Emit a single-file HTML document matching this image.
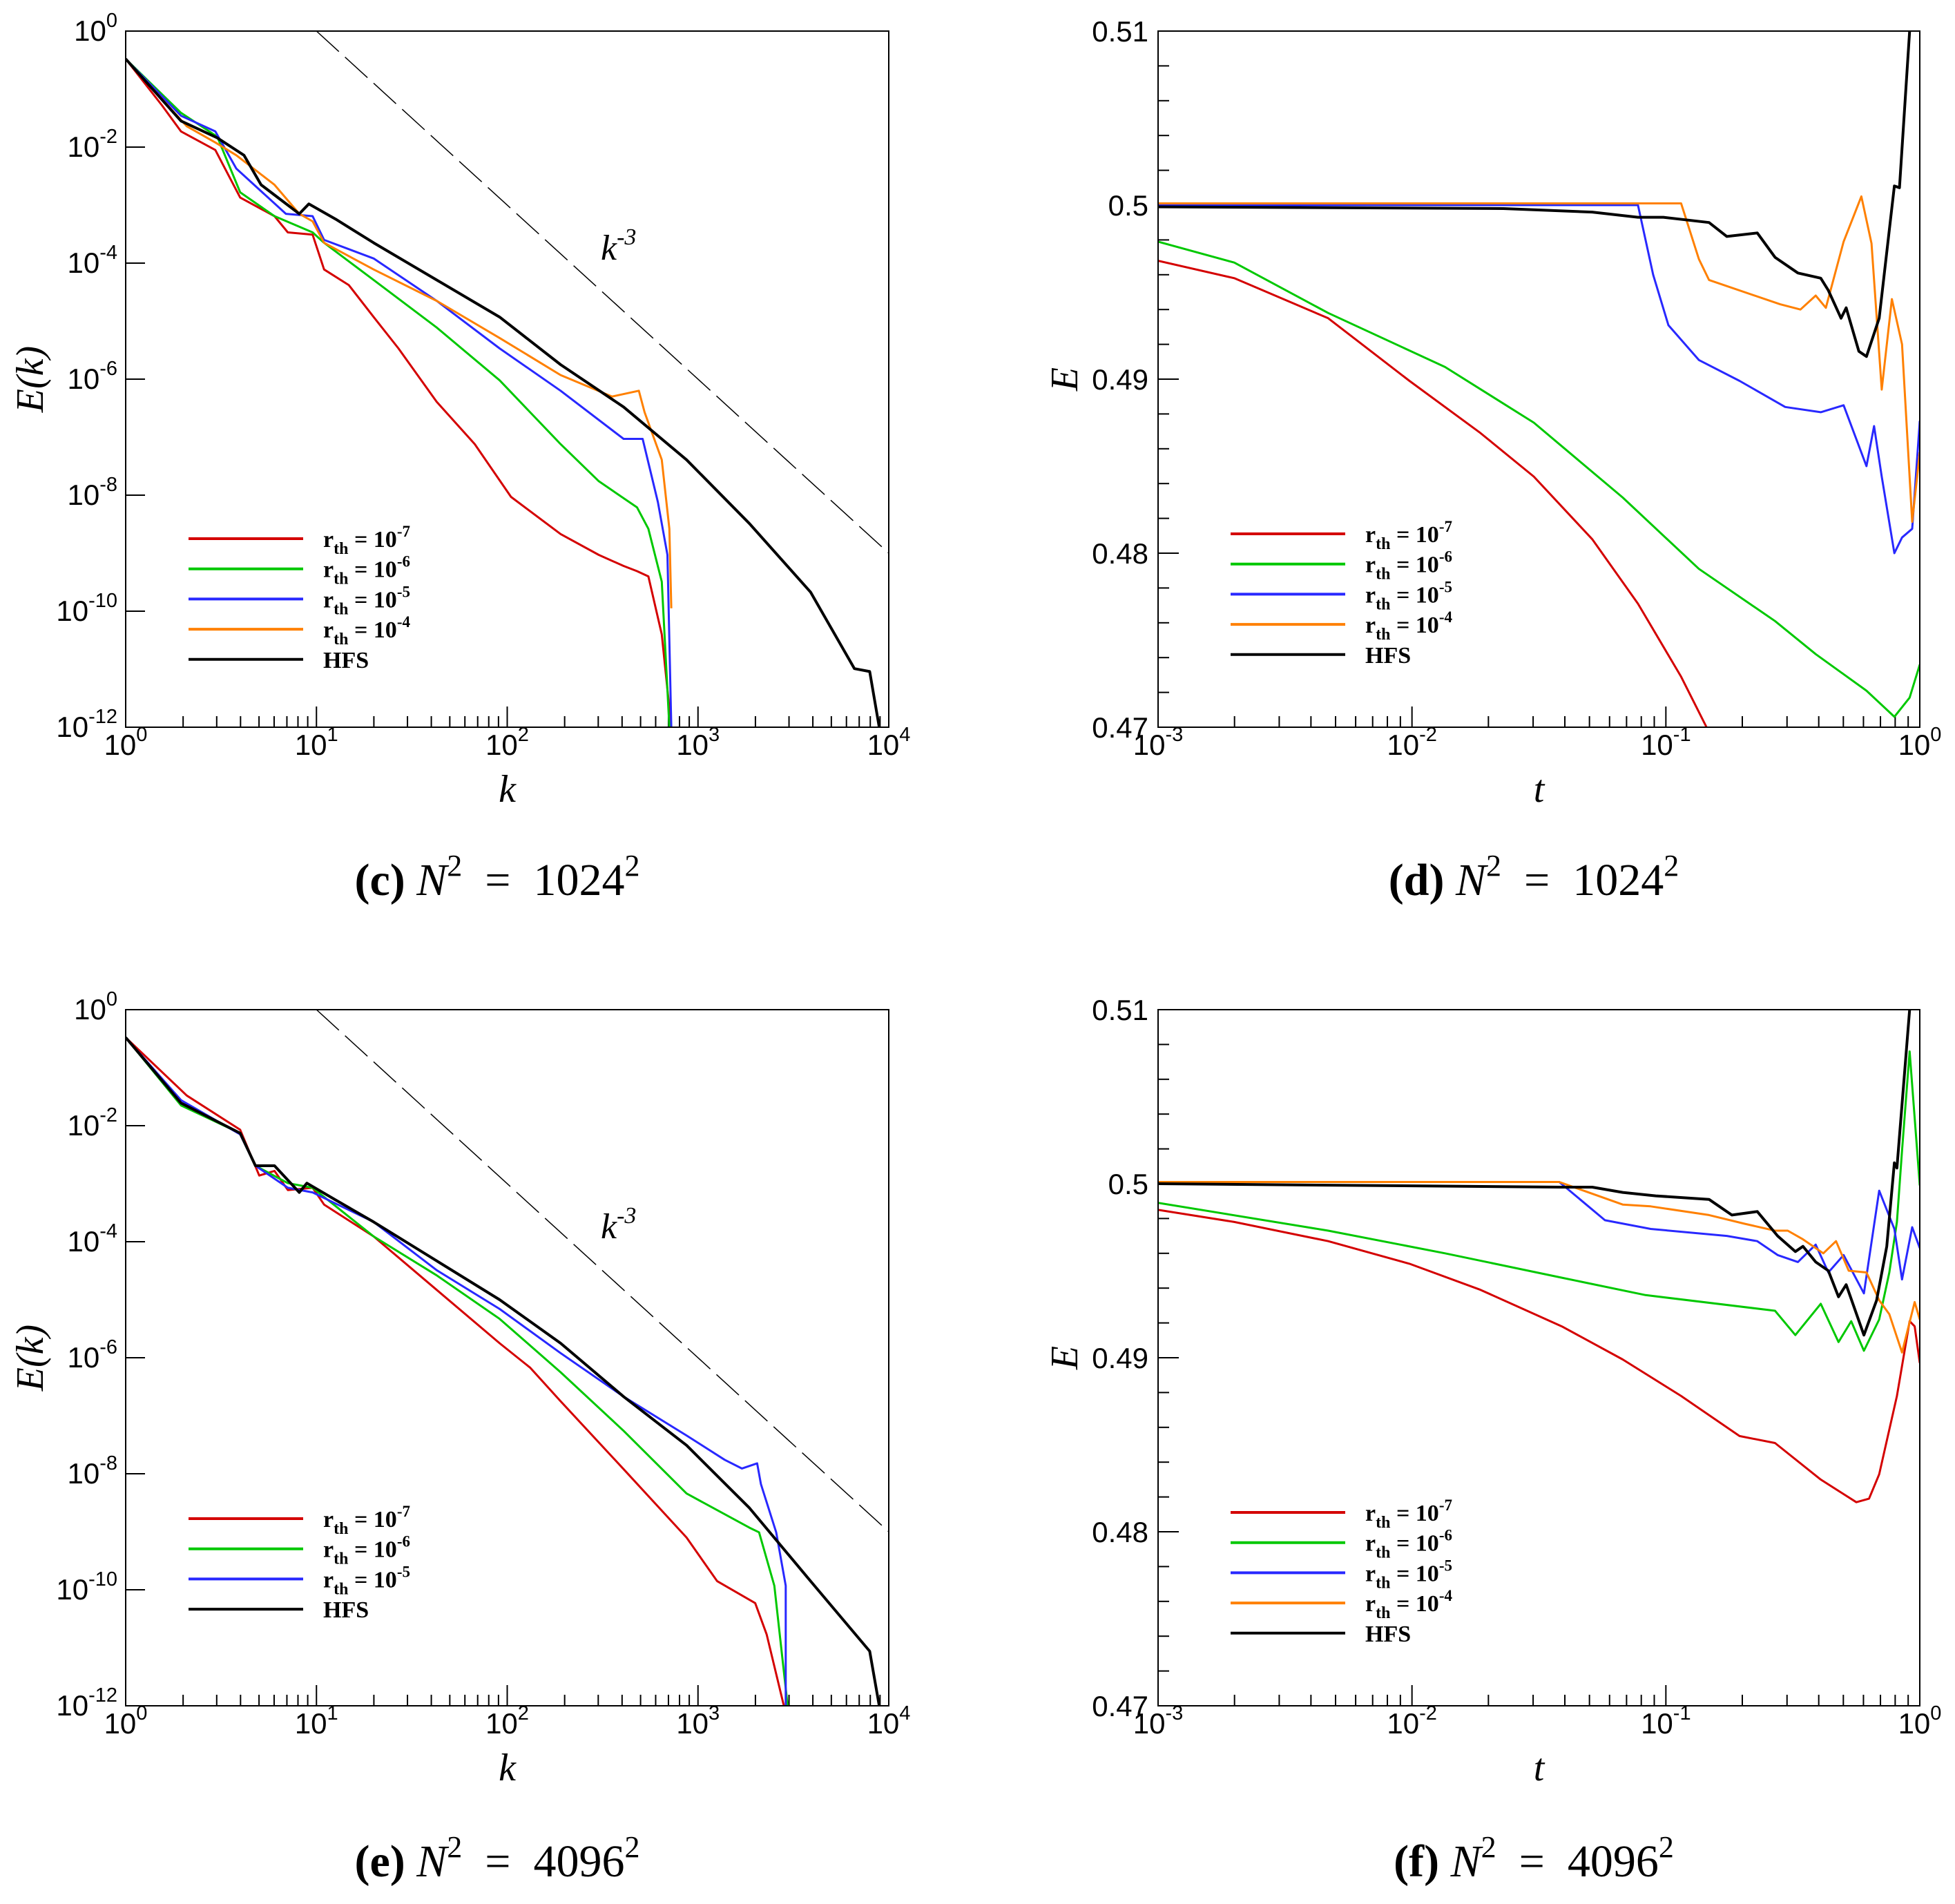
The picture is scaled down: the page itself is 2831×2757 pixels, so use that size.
<!DOCTYPE html>
<html><head><meta charset="utf-8"><style>
html,body{margin:0;padding:0;background:#fff;}
svg{display:block;}
</style></head><body>
<svg id="fig" xmlns="http://www.w3.org/2000/svg" width="2831" height="2757" viewBox="0 0 2831 2757"></svg>
<script>
// ---------- DATA (log10 k, log10 E) for spectra; (log10 t, E) for energy ----------
const c_hfs_x=[0,0.29,0.48,0.62,0.71,0.91,0.96,1.1,1.3,1.63,1.96,2.28,2.61,2.94,3.27,3.59,3.82,3.9,3.95];
const c_hfs_y=[-0.48,-1.55,-1.84,-2.14,-2.65,-3.15,-2.98,-3.24,-3.65,-4.29,-4.93,-5.75,-6.48,-7.39,-8.49,-9.67,-10.99,-11.04,-12];
const c_r7_x=[0,0.19,0.29,0.47,0.6,0.78,0.85,0.98,1.04,1.17,1.3,1.43,1.63,1.83,2.02,2.28,2.48,2.61,2.68,2.74,2.81,2.86];
const c_r7_y=[-0.48,-1.28,-1.73,-2.05,-2.87,-3.19,-3.47,-3.51,-4.11,-4.38,-4.93,-5.47,-6.39,-7.12,-8.03,-8.67,-9.03,-9.22,-9.31,-9.4,-10.4,-12];
const c_r6_x=[0,0.29,0.48,0.6,0.78,0.98,1.04,1.3,1.63,1.96,2.28,2.48,2.68,2.74,2.81,2.85];
const c_r6_y=[-0.48,-1.41,-1.82,-2.78,-3.19,-3.47,-3.65,-4.29,-5.11,-6.02,-7.12,-7.76,-8.21,-8.58,-9.49,-12];
const c_r5_x=[0,0.29,0.47,0.58,0.84,0.98,1.04,1.3,1.63,1.96,2.28,2.61,2.71,2.79,2.84,2.86];
const c_r5_y=[-0.48,-1.46,-1.73,-2.37,-3.15,-3.19,-3.6,-3.92,-4.65,-5.47,-6.2,-7.03,-7.03,-8.12,-9.03,-12];
const c_r4_x=[0,0.32,0.47,0.58,0.78,0.91,0.98,1.04,1.3,1.63,1.96,2.28,2.55,2.69,2.72,2.81,2.85,2.86];
const c_r4_y=[-0.48,-1.64,-1.92,-2.14,-2.65,-3.15,-3.28,-3.65,-4.11,-4.65,-5.29,-5.93,-6.3,-6.2,-6.57,-7.39,-8.58,-9.95];
const e_hfs_x=[0,0.29,0.6,0.68,0.78,0.91,0.95,1.1,1.3,1.63,1.96,2.28,2.61,2.94,3.27,3.59,3.9,3.95];
const e_hfs_y=[-0.48,-1.61,-2.13,-2.69,-2.69,-3.15,-2.99,-3.28,-3.66,-4.33,-5,-5.75,-6.67,-7.51,-8.59,-9.85,-11.06,-12];
const e_r7_x=[0,0.32,0.6,0.7,0.78,0.85,0.98,1.04,1.3,1.63,1.96,2.12,2.28,2.61,2.94,3.1,3.3,3.36,3.45];
const e_r7_y=[-0.48,-1.48,-2.07,-2.86,-2.78,-3.11,-3.07,-3.36,-3.91,-4.83,-5.75,-6.17,-6.75,-7.92,-9.1,-9.85,-10.23,-10.77,-12];
const e_r6_x=[0,0.29,0.6,0.68,0.85,0.98,1.3,1.63,1.96,2.28,2.61,2.94,3.27,3.32,3.4,3.47];
const e_r6_y=[-0.48,-1.65,-2.13,-2.69,-2.99,-3.07,-3.91,-4.58,-5.33,-6.25,-7.26,-8.34,-8.93,-9.01,-9.93,-12];
const e_r5_x=[0,0.29,0.6,0.68,0.85,0.98,1.3,1.63,1.96,2.28,2.61,2.94,3.14,3.23,3.31,3.33,3.41,3.46,3.46];
const e_r5_y=[-0.48,-1.56,-2.15,-2.69,-3.07,-3.15,-3.66,-4.49,-5.16,-5.92,-6.67,-7.34,-7.76,-7.91,-7.82,-8.18,-9.01,-9.93,-12];
const d_r7_x=[-3,-2.7,-2.33,-2.01,-1.73,-1.52,-1.29,-1.11,-0.94,-0.84];
const d_r7_y=[0.4968,0.4958,0.4935,0.4899,0.4869,0.4844,0.4808,0.4771,0.4729,0.47];
const d_r6_x=[-3,-2.7,-2.33,-1.87,-1.52,-1.17,-0.87,-0.57,-0.41,-0.21,-0.1,-0.04,0];
const d_r6_y=[0.4979,0.4967,0.4938,0.4907,0.4875,0.4832,0.4791,0.4761,0.4742,0.4721,0.4706,0.4717,0.4736];
const d_r5_x=[-3,-1.11,-1.05,-0.99,-0.87,-0.71,-0.53,-0.39,-0.3,-0.21,-0.18,-0.15,-0.1,-0.07,-0.03,0];
const d_r5_y=[0.5,0.5,0.496,0.4931,0.4911,0.4899,0.4884,0.4881,0.4885,0.485,0.4873,0.4844,0.48,0.4809,0.4814,0.4876];
const d_r4_x=[-3,-0.94,-0.87,-0.83,-0.55,-0.47,-0.41,-0.37,-0.3,-0.23,-0.19,-0.15,-0.11,-0.07,-0.03,0];
const d_r4_y=[0.5001,0.5001,0.4969,0.4957,0.4943,0.494,0.4948,0.4941,0.4979,0.5005,0.4978,0.4894,0.4946,0.492,0.4818,0.4858];
const d_hfs_x=[-3,-1.64,-1.29,-1.11,-1.01,-0.83,-0.76,-0.64,-0.57,-0.48,-0.39,-0.36,-0.31,-0.29,-0.24,-0.21,-0.16,-0.1,-0.08,-0.04];
const d_hfs_y=[0.4999,0.4998,0.4996,0.4993,0.4993,0.499,0.4982,0.4984,0.497,0.4961,0.4958,0.4951,0.4935,0.4941,0.4916,0.4913,0.4935,0.5011,0.501,0.51];
const f_r7_x=[-3,-2.7,-2.33,-2.01,-1.73,-1.41,-1.17,-0.94,-0.71,-0.57,-0.39,-0.25,-0.2,-0.16,-0.09,-0.04,-0.02,0];
const f_r7_y=[0.4985,0.4978,0.4967,0.4954,0.4939,0.4918,0.4899,0.4878,0.4855,0.4851,0.483,0.4817,0.4819,0.4833,0.4878,0.4921,0.4918,0.4897];
const f_r6_x=[-3,-2.33,-1.87,-1.41,-1.08,-0.57,-0.49,-0.39,-0.32,-0.27,-0.22,-0.16,-0.12,-0.09,-0.07,-0.04,0];
const f_r6_y=[0.4989,0.4973,0.496,0.4946,0.4936,0.4927,0.4913,0.4931,0.4909,0.4921,0.4904,0.4922,0.4949,0.4978,0.5019,0.5076,0.4999];
const f_r5_x=[-3,-1.42,-1.24,-1.06,-0.76,-0.64,-0.56,-0.48,-0.41,-0.36,-0.3,-0.22,-0.16,-0.1,-0.07,-0.03,0];
const f_r5_y=[0.5001,0.5001,0.4979,0.4974,0.497,0.4967,0.4959,0.4955,0.4965,0.4949,0.4959,0.4937,0.4996,0.4974,0.4945,0.4975,0.4963];
const f_r4_x=[-3,-1.42,-1.17,-1.06,-0.83,-0.69,-0.57,-0.52,-0.46,-0.38,-0.33,-0.28,-0.21,-0.16,-0.12,-0.07,-0.02,0];
const f_r4_y=[0.5001,0.5001,0.4988,0.4987,0.4982,0.4977,0.4973,0.4973,0.4968,0.496,0.4967,0.495,0.4949,0.4933,0.4925,0.4903,0.4932,0.4922];
const f_hfs_x=[-3,-1.41,-1.29,-1.17,-1.04,-0.83,-0.74,-0.64,-0.56,-0.49,-0.46,-0.41,-0.36,-0.32,-0.29,-0.22,-0.17,-0.13,-0.1,-0.09,-0.04];
const f_hfs_y=[0.5,0.4998,0.4998,0.4995,0.4993,0.4991,0.4982,0.4984,0.497,0.4961,0.4964,0.4955,0.495,0.4935,0.4942,0.4913,0.4933,0.4964,0.5012,0.5009,0.51];
const kTickExp=[0,1,2,3,4];
const eTickExp=[0,-2,-4,-6,-8,-10,-12];
const tTickExp=[-3,-2,-1,0];
const EtickLabels=["0.47","0.48","0.49","0.5","0.51"];
const EtickVals=[0.47,0.48,0.49,0.5,0.51];
const legendLabels=["-7","-6","-5","-4"];

const NS="http://www.w3.org/2000/svg";
const svg=document.getElementById('fig');
const COL={r7:'#d40000',r6:'#00c800',r5:'#2828ff',r4:'#ff8000',hfs:'#000'};
function mk(tag,attrs,parent){const e=document.createElementNS(NS,tag);for(const k in attrs)e.setAttribute(k,attrs[k]);(parent||svg).appendChild(e);return e;}

function panel(P){
  const g=mk('g',{});
  
  
  const X=v=>P.L+(v-P.xd[0])/(P.xd[1]-P.xd[0])*(P.R-P.L);
  const Y=v=>P.B-(v-P.yd[0])/(P.yd[1]-P.yd[0])*(P.B-P.T);
  const clipId=P.name+'-clip';
  const cp=mk('clipPath',{id:clipId},g);mk('rect',{x:P.L,y:P.T,width:P.R-P.L,height:P.B-P.T},cp);
  const xt=mk('g',{},g);
  
  
  for(let d=P.xd[0];d<=P.xd[1];d++){
    const x=X(d);
    mk('line',{x1:x,y1:P.B,x2:x,y2:P.B-30,stroke:'#000','stroke-width':2},xt);
    const t=mk('text',{x:x,y:P.B+40,'font-family':'Liberation Sans, sans-serif','font-size':42,'text-anchor':'middle'},xt);
    
    
    t.innerHTML='10<tspan dy="-20" font-size="29">'+d+'</tspan>';
    if(d<P.xd[1])for(let m=2;m<=9;m++){const xm=X(d+Math.log10(m));mk('line',{x1:xm,y1:P.B,x2:xm,y2:P.B-16,stroke:'#000','stroke-width':2},xt);}
  }
  const yt=mk('g',{},g);
  
  
  if(P.logY){
    eTickExp.forEach(e=>{const y=Y(e);
      mk('line',{x1:P.L,y1:y,x2:P.L+28,y2:y,stroke:'#000','stroke-width':2},yt);
      const t=mk('text',{x:P.L-12,y:y+14,'font-family':'Liberation Sans, sans-serif','font-size':42,'text-anchor':'end'},yt);
      
      
      t.innerHTML='10<tspan dy="-20" font-size="29">'+e+'</tspan>';
    });
  } else {
    for(let i=0;i<=20;i++){const v=0.47+i*0.002;const y=Y(v);const major=i%5==0;
      mk('line',{x1:P.L,y1:y,x2:P.L+(major?30:16),y2:y,stroke:'#000','stroke-width':2},yt);}
    EtickVals.forEach((v,i)=>{const t=mk('text',{x:P.L-14,y:Y(v)+15,'font-family':'Liberation Sans, sans-serif','font-size':42,'text-anchor':'end'},yt);
      
      
      t.textContent=EtickLabels[i];});
  }
  const sg=mk('g',{'clip-path':'url(#'+clipId+')'},g);
  if(P.dash){const dl=mk('line',{x1:X(1),y1:Y(0),x2:X(4),y2:Y(-9),stroke:'#000','stroke-width':1.5,'stroke-dasharray':'44 12'},sg);
    
    }
  P.series.forEach(s=>{
    const d=s.x.map((v,i)=>(i?'L':'M')+X(v).toFixed(1)+','+Y(s.y[i]).toFixed(1)).join('');
    const p=mk('path',{d:d,fill:'none',stroke:COL[s.c],'stroke-width':s.c=='hfs'?4:3,'stroke-linejoin':'round'},sg);
    
    
  });
  const fr=mk('rect',{x:P.L,y:P.T,width:P.R-P.L,height:P.B-P.T,fill:'none',stroke:'#000','stroke-width':2},g);
  
  
  if(P.dash){const t=mk('text',{x:P.L+688,y:P.T+331,'font-family':'Liberation Serif, serif','font-style':'italic','font-size':52},g);
    
    
    t.innerHTML='k<tspan dy="-22" font-size="34">-3</tspan>';}
  const xtit=mk('text',{x:(P.L+P.R)/2,y:P.B+108,'font-family':'Liberation Serif, serif','font-style':'italic','font-size':56,'text-anchor':'middle'},g);
  
  
  xtit.textContent=P.xlab;
  const cy=(P.T+P.B)/2;
  const ytit=mk('text',{x:P.ylx,y:cy,'font-family':'Liberation Serif, serif','font-style':'italic','font-size':56,'text-anchor':'middle',transform:'rotate(-90 '+P.ylx+' '+cy+')'},g);
  
  
  ytit.textContent=P.ylab;
  const lg=mk('g',{},g);
  
  
  P.leg.forEach((c,i)=>{
    const y=P.legY+i*43.7;
    const ln=mk('line',{x1:P.legX,y1:y,x2:P.legX+166,y2:y,stroke:COL[c],'stroke-width':4},lg);
    
    
    const t=mk('text',{x:P.legX+195,y:y+12,'font-family':'Liberation Serif, serif','font-weight':'bold','font-size':34},lg);
    
    
    if(c=='hfs')t.textContent='HFS';
    else t.innerHTML='r<tspan dy="10" font-size="24">th</tspan><tspan dy="-10"> = 10</tspan><tspan dy="-15" font-size="23">'+legendLabels[i]+'</tspan>';
  });
  const cap=mk('text',{x:P.capX,y:P.capY,'font-family':'Liberation Serif, serif','font-size':66,'text-anchor':'middle'},g);
  
  
  cap.innerHTML='<tspan font-weight="bold">('+P.letter+')</tspan> <tspan font-style="italic">N</tspan><tspan dy="-28" font-size="44">2</tspan><tspan dy="28">\u2002=\u2002'+P.N+'</tspan><tspan dy="-28" font-size="44">2</tspan>';
}
const DATA={c:{r7:[c_r7_x,c_r7_y],r6:[c_r6_x,c_r6_y],r5:[c_r5_x,c_r5_y],r4:[c_r4_x,c_r4_y],hfs:[c_hfs_x,c_hfs_y]},
 e:{r7:[e_r7_x,e_r7_y],r6:[e_r6_x,e_r6_y],r5:[e_r5_x,e_r5_y],hfs:[e_hfs_x,e_hfs_y]},
 d:{r7:[d_r7_x,d_r7_y],r6:[d_r6_x,d_r6_y],r5:[d_r5_x,d_r5_y],r4:[d_r4_x,d_r4_y],hfs:[d_hfs_x,d_hfs_y]},
 f:{r7:[f_r7_x,f_r7_y],r6:[f_r6_x,f_r6_y],r5:[f_r5_x,f_r5_y],r4:[f_r4_x,f_r4_y],hfs:[f_hfs_x,f_hfs_y]}};
function ser(p,order){return order.map(c=>({x:DATA[p][c][0],y:DATA[p][c][1],c:c}));}
const topT=45,topB=1053,botT=1462,botB=2470;
panel({name:'panel-c-spectrum-1024',L:182,R:1287,T:topT,B:topB,xd:[0,4],yd:[-12,0],logY:true,dash:true,xlab:'k',ylab:'E(k)',ylx:62,
  series:ser('c',['r7','r6','r5','r4','hfs']),leg:['r7','r6','r5','r4','hfs'],legX:273,legY:780,capX:720,capY:1296,letter:'c',N:'1024'});
panel({name:'panel-d-energy-1024',L:1677,R:2780,T:topT,B:topB,xd:[-3,0],yd:[0.47,0.51],logY:false,dash:false,xlab:'t',ylab:'E',ylx:1560,
  series:ser('d',['r7','r6','r5','r4','hfs']),leg:['r7','r6','r5','r4','hfs'],legX:1782,legY:773,capX:2221,capY:1296,letter:'d',N:'1024'});
panel({name:'panel-e-spectrum-4096',L:182,R:1287,T:botT,B:botB,xd:[0,4],yd:[-12,0],logY:true,dash:true,xlab:'k',ylab:'E(k)',ylx:62,
  series:ser('e',['r7','r6','r5','hfs']),leg:['r7','r6','r5','hfs'],legX:273,legY:2199,capX:720,capY:2717,letter:'e',N:'4096'});
panel({name:'panel-f-energy-4096',L:1677,R:2780,T:botT,B:botB,xd:[-3,0],yd:[0.47,0.51],logY:false,dash:false,xlab:'t',ylab:'E',ylx:1560,
  series:ser('f',['r7','r6','r5','r4','hfs']),leg:['r7','r6','r5','r4','hfs'],legX:1782,legY:2190,capX:2221,capY:2717,letter:'f',N:'4096'});
</script>
</body></html>
